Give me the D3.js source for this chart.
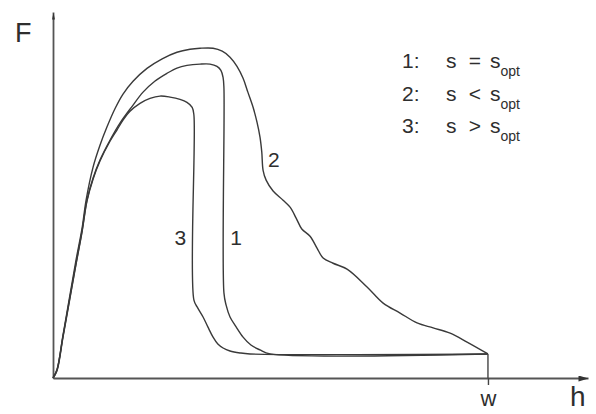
<!DOCTYPE html>
<html>
<head>
  <meta charset="utf-8">
  <title>F over h</title>
  <script src="https://d3js.org/d3.v7.min.js"></script>
  <style>
    body { margin: 0; background: #fff; }
    text { font-family: "Liberation Sans", Arial, sans-serif; fill: #2e2e2e; }
  </style>
</head>
<body>
<div id="chart"></div>
<script>
// curve 1: s = s_opt
var h1 = [0, 0.9, 2.3, 3.9, 5.3, 6.7, 7.8, 9.2, 10.8, 13.1, 15.4, 18.2, 20.7, 23.4, 26.2, 28.5, 30.8, 33.8, 36.1, 37.7, 38.6, 39.1, 39.3, 39.3, 39.8, 40.7, 42.1, 43.7, 45.5, 47.6, 49.9, 100];
var f1 = [0, 2.4, 12.7, 24.5, 34.8, 44.8, 53.9, 60.6, 66.1, 72.1, 77.3, 82.4, 86.7, 90.0, 92.4, 94.0, 94.8, 95.2, 95.2, 94.5, 93.3, 91.2, 87.9, 25.8, 22.1, 18.5, 15.5, 12.4, 10.0, 8.5, 7.3, 7.3];

// curve 2: s < s_opt
var h2 = [0, 0.9, 2.3, 3.9, 5.3, 6.7, 7.6, 9.2, 10.8, 12.4, 14.3, 16.1, 18.4, 21.6, 25.1, 28.5, 31.5, 33.8, 36.8, 38.9, 40.7, 42.3, 43.7, 44.8, 46.0, 46.9, 47.6, 48.0, 48.3, 49.0, 50.6, 52.9, 54.5, 55.9, 57.2, 59.1, 60.7, 62.1, 64.4, 67.6, 72.2, 75.9, 79.8, 83.7, 87.4, 91.3, 95.2, 100];
var f2 = [0, 2.4, 13.0, 25.2, 35.8, 45.5, 53.9, 63.9, 70.6, 76.1, 81.8, 86.1, 90.0, 93.9, 96.8, 98.8, 99.7, 100, 100, 99.1, 97.3, 94.5, 90.9, 86.7, 82.1, 77.6, 73.0, 68.5, 63.0, 60.0, 56.7, 53.9, 51.8, 48.5, 45.2, 43.0, 39.4, 36.4, 34.8, 33.0, 27.6, 22.7, 19.7, 16.7, 15.2, 13.6, 10.9, 7.3];

// curve 3: s > s_opt
var h3 = [0, 0.9, 2.3, 3.9, 5.3, 6.7, 7.8, 9.2, 10.8, 13.1, 14.7, 16.1, 17.7, 20.0, 22.3, 24.6, 26.9, 29.2, 30.8, 32.0, 32.4, 32.4, 33.3, 34.5, 35.6, 36.8, 37.9, 39.1, 40.7, 43.0, 45.3, 100];
var f3 = [0, 2.1, 12.4, 24.2, 34.5, 44.5, 53.6, 60.3, 65.8, 71.8, 75.2, 78.2, 80.9, 83.3, 84.8, 85.5, 85.2, 84.5, 83.6, 82.1, 79.7, 23.6, 21.2, 18.5, 15.5, 12.4, 10.3, 9.1, 8.2, 7.6, 7.3, 7.3];

var legendNums = ["1:", "2:", "3:"];
var legendOps = ["=", "<", ">"];
var wValue = 100;
var fAtW = 7.3;

var svg = d3.select("#chart").append("svg")
    .attr("width", 596)
    .attr("height", 414);

var x = d3.scaleLinear().domain([0, 123]).range([53, 588]);
var y = d3.scaleLinear().domain([0, 111]).range([378, 12]);

var defs = svg.append("defs");
defs.append("marker")
    .attr("id", "arrowX")
    .attr("viewBox", "0 0 10 6")
    .attr("refX", 10).attr("refY", 3)
    .attr("markerWidth", 11).attr("markerHeight", 6)
    .attr("markerUnits", "userSpaceOnUse")
    .attr("orient", "auto")
  .append("path")
    .attr("d", "M0,0L10,3L0,6Z")
    .attr("fill", "#333");
defs.append("marker")
    .attr("id", "arrowY")
    .attr("viewBox", "0 0 10 4")
    .attr("refX", 10).attr("refY", 2)
    .attr("markerWidth", 7).attr("markerHeight", 4)
    .attr("markerUnits", "userSpaceOnUse")
    .attr("orient", "auto")
  .append("path")
    .attr("d", "M0,0L10,2L0,4Z")
    .attr("fill", "#333");

// axes
var xAxis = svg.append("g")
    .attr("transform", "translate(0," + y(0) + ")")
    .call(d3.axisBottom(x).tickValues([wValue]).tickFormat(function(){ return "w"; })
      .tickSizeOuter(0).tickSizeInner(7).tickPadding(5));
xAxis.select(".domain").attr("stroke", "#555").attr("stroke-width", 1.8).attr("marker-end", "url(#arrowX)");
xAxis.selectAll(".tick line").attr("stroke", "#444").attr("stroke-width", 1.4);
xAxis.selectAll(".tick text").attr("font-size", 22).attr("fill", "#2e2e2e")
    .style("font-family", "'Liberation Sans', Arial, sans-serif");

var yAxis = svg.append("g")
    .attr("transform", "translate(" + x(0) + ",0)")
    .call(d3.axisLeft(y).tickValues([]).tickSizeOuter(0));
yAxis.select(".domain").attr("stroke", "#555").attr("stroke-width", 1.8).attr("marker-end", "url(#arrowY)");

// axis names
svg.append("text").attr("x", 15).attr("y", 42).attr("font-size", 27).text("F");
svg.append("text").attr("x", 570).attr("y", 406).attr("font-size", 28).text("h");

// curves
var line = d3.line()
    .x(function(d){ return x(d[0]); })
    .y(function(d){ return y(d[1]); })
    .curve(d3.curveCatmullRom.alpha(0.5));

var curves = [d3.zip(h1, f1), d3.zip(h2, f2), d3.zip(h3, f3)];
svg.selectAll(".curve")
    .data(curves)
    .enter()
    .append("path")
    .attr("class", "curve")
    .attr("d", line)
    .attr("fill", "none")
    .attr("stroke", "#3a3a3a")
    .attr("stroke-width", 1.4);

// drop at w
svg.append("line")
    .attr("x1", x(wValue)).attr("x2", x(wValue))
    .attr("y1", y(fAtW)).attr("y2", y(0))
    .attr("stroke", "#444").attr("stroke-width", 1.4);

// curve numbers
svg.append("text").attr("x", x(29.3)).attr("y", y(40.3)).attr("text-anchor", "middle").attr("font-size", 21).text("3");
svg.append("text").attr("x", x(42.1)).attr("y", y(40.3)).attr("text-anchor", "middle").attr("font-size", 21).text("1");
svg.append("text").attr("x", x(50.8)).attr("y", y(63.9)).attr("text-anchor", "middle").attr("font-size", 21).text("2");

// legend
var leg = svg.append("g");
legendNums.forEach(function(n, i){
  var by = 68 + i * 32.5;
  leg.append("text").attr("x", 402).attr("y", by).attr("font-size", 21).text(n);
  leg.append("text").attr("x", 446).attr("y", by).attr("font-size", 21).text("s");
  leg.append("text").attr("x", 475).attr("y", by).attr("font-size", 21).attr("text-anchor", "middle").text(legendOps[i]);
  var t = leg.append("text").attr("x", 490).attr("y", by).attr("font-size", 21);
  t.append("tspan").text("s");
  t.append("tspan").attr("font-size", 14).attr("dy", 8).text("opt");
});
</script>
</body>
</html>
